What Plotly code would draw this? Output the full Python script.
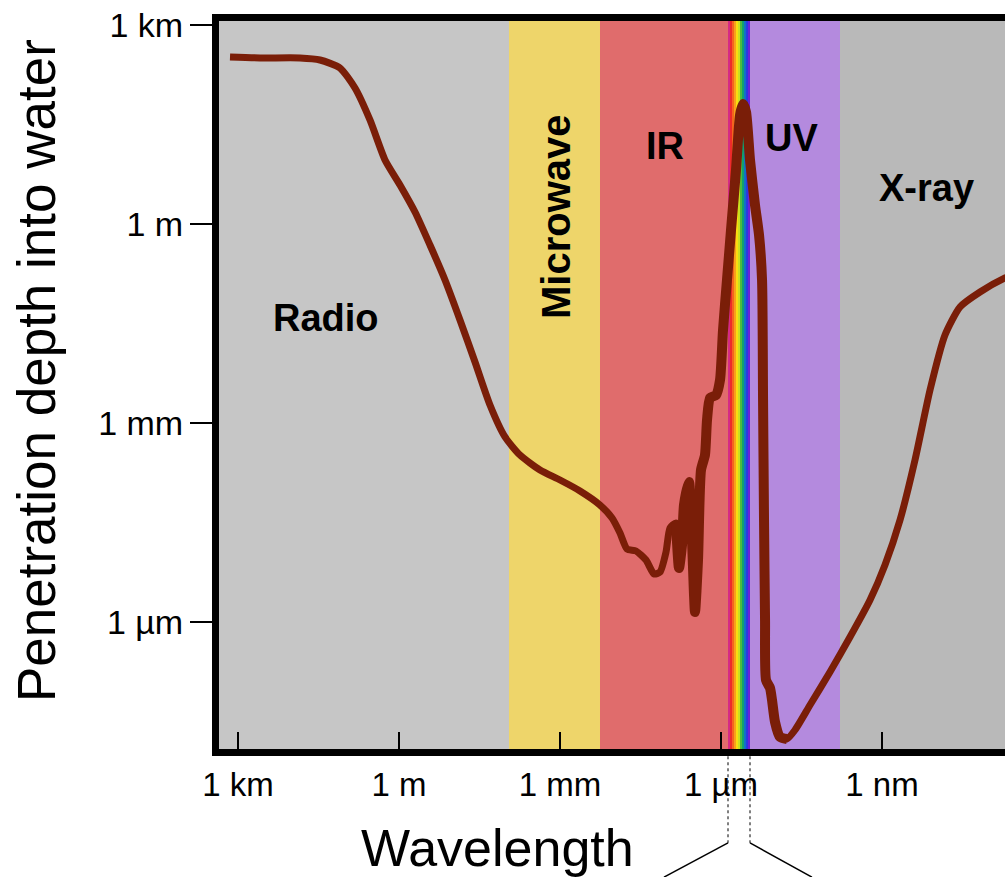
import plotly.graph_objects as go

# ---- data (log10 of metres) ----
wavelength_log10_m = [3.149, 2.590, 1.845, 1.472, 1.100, 0.820, 0.541, 0.261, -0.018, -0.298,
                      -0.577, -0.857, -1.136, -1.416, -1.695, -1.975, -2.254, -2.627, -3.000, -3.372,
                      -3.745, -3.969, -4.118, -4.248, -4.416, -4.602, -4.751, -4.863, -4.975, -5.049,
                      -5.161, -5.217, -5.273, -5.310, -5.403, -5.459, -5.515, -5.571, -5.627, -5.701,
                      -5.739, -5.795, -5.907, -5.981, -6.037, -6.111, -6.186, -6.279, -6.354, -6.410,
                      -6.466, -6.540, -6.633, -6.708, -6.764, -6.783, -6.801, -6.820, -6.838, -6.913,
                      -6.950, -7.006, -7.099, -7.229, -7.378, -7.658, -8.030, -8.403, -8.776, -9.055,
                      -9.335, -9.614, -9.894, -10.173, -10.453, -10.826, -11.291, -11.571]
depth_log10_m = [2.518, 2.503, 2.503, 2.472, 2.352, 2.050, 1.568, 0.965, 0.588, 0.181,
                 -0.317, -0.844, -1.447, -2.081, -2.729, -3.211, -3.483, -3.709, -3.860, -4.025,
                 -4.237, -4.433, -4.659, -4.900, -4.930, -5.066, -5.277, -5.247, -4.945, -4.583,
                 -4.508, -5.186, -4.839, -4.237, -3.890, -4.764, -5.850, -5.066, -3.709, -3.483,
                 -2.955, -2.623, -2.578, -2.352, -1.598, -0.844, -0.091, 0.814, 1.643, 1.809,
                 1.688, 0.965, 0.286, -0.166, -0.844, -2.654, -4.463, -5.970, -6.875, -6.995,
                 -7.177, -7.508, -7.734, -7.764, -7.629, -7.252, -6.754, -6.227, -5.669, -5.141,
                 -4.463, -3.558, -2.503, -1.674, -1.251, -1.025, -0.814, -0.724]
thick_start, thick_end = 30, 64   # index span drawn with the heavier stroke

tick_vals = [3, 0, -3, -6, -9]
x_tick_text = ["1 km", "1 m", "1 mm", "1 µm", "1 nm"]
y_tick_text = ["1 km", "1 m", "1 mm", "1 µm"]

band_names = ["Radio", "Microwave", "IR", "Visible", "UV", "X-ray"]
band_edges = [3.354, -2.049, -3.745, -6.130, -6.540, -8.217, -11.291]
band_colors = ["#c6c6c6", "#eed56a", "#e06c6c", None, "#b48ade", "#b9b9b9"]
rainbow_colors = ["#d42a86", "#ee2a2a", "#f4641e", "#f8a01a", "#fadc10", "#c8e020",
                  "#4cbc3c", "#10a070", "#1070c8", "#2a3ae0", "#6a20d8"]

label_text = ["Radio", "Microwave", "IR", "UV", "X-ray"]
label_x = [1.360, -2.925, -4.956, -7.304, -9.819]
label_y = [-1.417, 0.105, 1.176, 1.296, 0.543]
label_angle = [0, -90, 0, 0, 0]
label_size = [38, 40, 38, 38, 38]

x_range = [3.354, -11.291]
y_range = [-7.915, 3.060]

FONT = "Liberation Sans, Arial, sans-serif"
CURVE = "#7a1e08"

fig = go.Figure()

fig.add_trace(go.Scatter(x=wavelength_log10_m, y=depth_log10_m, mode="lines",
                         line=dict(color=CURVE, width=7, shape="spline", smoothing=0.6),
                         hoverinfo="skip", showlegend=False))
fig.add_trace(go.Scatter(x=wavelength_log10_m[thick_start:thick_end],
                         y=depth_log10_m[thick_start:thick_end], mode="lines",
                         line=dict(color=CURVE, width=10, shape="spline", smoothing=0.6),
                         hoverinfo="skip", showlegend=False))

shapes = []
for i, name in enumerate(band_names):
    x0, x1 = band_edges[i], band_edges[i + 1]
    if band_colors[i] is not None:
        shapes.append(dict(type="rect", xref="x", yref="paper", x0=x0, x1=x1, y0=0, y1=1,
                           fillcolor=band_colors[i], line=dict(width=0), layer="below"))
    else:
        n = len(rainbow_colors)
        step = (x1 - x0) / n
        for k, c in enumerate(rainbow_colors):
            shapes.append(dict(type="rect", xref="x", yref="paper",
                               x0=x0 + k * step, x1=x0 + (k + 1) * step + step * 0.05,
                               y0=0, y1=1, fillcolor=c, line=dict(width=0), layer="below"))

# dotted guides from the visible band and the opening lines below the axis
vis_left, vis_right = band_edges[3], band_edges[4]
for xv in (vis_left, vis_right):
    shapes.append(dict(type="line", xref="x", yref="paper", x0=xv, x1=xv, y0=-0.01, y1=-0.129,
                       line=dict(color="black", width=1, dash="dot")))
shapes.append(dict(type="line", xref="x", yref="paper", x0=vis_left, x1=-4.937, y0=-0.129, y1=-0.176,
                   line=dict(color="black", width=1.5)))
shapes.append(dict(type="line", xref="x", yref="paper", x0=vis_right, x1=-7.694, y0=-0.129, y1=-0.176,
                   line=dict(color="black", width=1.5)))

annotations = []
for t, xv, yv, a, s in zip(label_text, label_x, label_y, label_angle, label_size):
    annotations.append(dict(text="<b>%s</b>" % t, x=xv, y=yv, xref="x", yref="y", showarrow=False,
                            textangle=a, xanchor="center", yanchor="middle",
                            font=dict(family=FONT, size=s, color="black")))
annotations.append(dict(text="Wavelength", x=0.3537, y=-0.136, xref="paper", yref="paper",
                        showarrow=False, xanchor="center", yanchor="middle",
                        font=dict(family=FONT, size=52, color="black")))
annotations.append(dict(text="Penetration depth into water", x=-0.232, y=0.52, xref="paper", yref="paper",
                        showarrow=False, textangle=-90, xanchor="center", yanchor="middle",
                        font=dict(family=FONT, size=53, color="black")))

fig.update_layout(
    width=1005, height=877,
    margin=dict(l=219, r=0, t=21, b=128),
    paper_bgcolor="white", plot_bgcolor="#c6c6c6",
    shapes=shapes, annotations=annotations,
    xaxis=dict(range=x_range, tickvals=tick_vals, ticktext=x_tick_text, ticks="inside",
               ticklen=17, tickwidth=1.5, tickcolor="black", showgrid=False, zeroline=False,
               showline=True, linecolor="black", linewidth=7, mirror=True,
               tickfont=dict(family=FONT, size=33, color="black")),
    yaxis=dict(range=y_range, tickvals=tick_vals[:4], ticktext=y_tick_text, ticks="outside",
               ticklen=22, tickwidth=1.5, tickcolor="black", showgrid=False, zeroline=False,
               showline=True, linecolor="black", linewidth=7, mirror=False,
               tickfont=dict(family=FONT, size=34, color="black")),
)

fig.write_html("out.html", config={"displayModeBar": False},
               post_script="document.body.style.margin='0';document.body.style.overflow='hidden';")
